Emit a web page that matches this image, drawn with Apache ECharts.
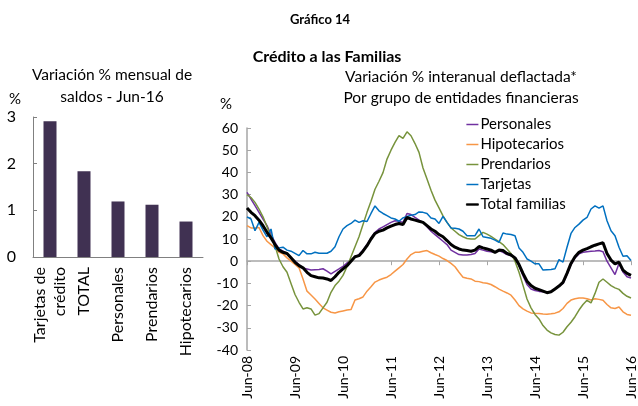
<!DOCTYPE html>
<html>
<head>
<meta charset="utf-8">
<script src="https://cdn.jsdelivr.net/npm/echarts@6/dist/echarts.min.js"></script>
<style>
html, body { margin: 0; padding: 0; background: #fff; }
#chart { width: 638px; height: 406px; }
</style>
</head>
<body>
<div id="chart"></div>
<script>
// bar panel: variacion % mensual de saldos, Jun-16
const barCats = ["Tarjetas de\ncrédito", "TOTAL", "Personales", "Prendarios", "Hipotecarios"];
const barValues = [2.91, 1.84, 1.19, 1.12, 0.76];

// line panel: monthly, Jun-08 .. Jun-16
const monthAbbr = ["Jun", "Jul", "Ago", "Sep", "Oct", "Nov", "Dic", "Ene", "Feb", "Mar", "Abr", "May"];
const months = [];
for (let i = 0; i < 97; i++) {
  const yr = 8 + Math.floor((i + 5) / 12);
  months.push(monthAbbr[i % 12] + "-" + String(yr).padStart(2, "0"));
}

const personales = [
  31, 28, 25, 22, 19, 16, 12, 8.5, 5.5, 4.5, 3.5, 1.5,
  0, -1.5, -3, -3.5, -4, -3.8, -3.7, -3.4, -4.5, -5.7, -4.6, -3.5,
  -2.3, -0.8, 0.5, 2, 3, 5, 7.5, 10.5, 13, 14.5, 15.5, 16.5,
  17.5, 18.2, 18, 17.5, 21.5, 21, 19.7, 18.5, 17.5, 15.5, 13.5, 12,
  10.5, 9, 7.5, 5, 4, 3, 2.8, 2.8, 3, 3.5, 5.5, 5,
  4.5, 4.3, 4, 4.8, 4, 3, 2.5, 1.5, -2, -6.5, -10.5, -12.5,
  -13.2, -13.6, -13.8, -14, -13.6, -12.5, -11, -10, -6, -1.5, 1.5, 3.3,
  4, 4.3, 4.5, 4.6, 4.8, 4.3, 0, -3, -6, -1, -4.9, -7,
  -7.6
];
const hipotecarios = [
  16, 15, 15, 15.2, 11.5, 9, 7.5, 6, 4, 3.3, 1.5, 0,
  -1.5, -3, -8, -13.5, -15.2, -17, -19, -21, -22, -23, -23.3, -22.8,
  -22.4, -22, -21.8, -17.5, -16.9, -16.1, -13.5, -11.5, -9.4, -8.5, -7.8, -7.2,
  -6, -4.5, -3, -1.5, 1, 3, 4, 4, 4.5, 4.8, 3.8, 3,
  2.3, 1.2, 0.3, -1, -2.5, -5, -7.2, -7.7, -8, -9, -9.2, -9.7,
  -9.9, -10.5, -11.5, -12.6, -13.5, -14.3, -15.3, -17.5, -20, -21.5, -22.5, -23.3,
  -23.5, -23.6, -23.8, -23.9, -23.7, -23.4, -22.8, -21.3, -19, -17.5, -16.9, -16.6,
  -16.6, -16.9, -17.5, -16.9, -17.2, -17.6, -19.5, -21, -21.3, -20.6, -22.8, -24,
  -24.3
];
const prendarios = [
  30, 28.7, 26.5, 23.5, 20, 15.5, 11, 7, 1, -2.5, -5, -10,
  -15, -18.5, -21.5, -21, -21.5, -24.3, -23.6, -21, -18.5, -14, -11, -9,
  -6.4, -2.5, 2, 6.5, 11, 16.5, 22, 27, 32.4, 36, 39.9, 46,
  50, 53.5, 56.6, 55.3, 58.3, 56.5, 53, 49, 42, 37, 32, 27.5,
  24, 20.4, 17.5, 15, 13.5, 12, 11, 10.2, 10, 10, 11.5, 13,
  12.2, 11.2, 10, 8.8, 7.5, 5.5, 3.5, 0, -5, -10.9, -17, -21,
  -24, -26, -29, -31, -32.3, -33, -33.3, -32, -29.5, -27.5, -25, -22,
  -19.5, -17.6, -18.8, -14.5, -9.5, -8, -9.5, -11, -12, -12.7, -14.5, -15.8,
  -16.6
];
const tarjetas = [
  20, 19, 13.7, 17.5, 14, 11, 14.5, 5.5, 6, 6.3, 5, 4.5,
  3.5, 2.5, 4.8, 3.3, 3.3, 4, 3.6, 3.6, 3.6, 4.5, 6.5, 11,
  14.5, 16, 17, 18.5, 17.5, 18.2, 17.9, 21.5, 24.9, 22.7, 21.5, 20.5,
  19.5, 19, 18, 19.5, 20.2, 20.7, 21, 22.2, 22, 21.5, 19.5, 19,
  17, 20.2, 17.5, 15, 14.8, 14.5, 13.5, 11.5, 11.5, 11.5, 14.5, 11,
  10.7, 10.3, 9.5, 8.5, 12.7, 12.2, 12, 11.5, 6, 4, 1, 0,
  -1.2, -1.2, -4, -3.8, -3.7, -3.4, 0.7, -0.4, 6.3, 12.5, 15.2, 16.7,
  18.5, 19.7, 23.5, 24.9, 23.9, 24.9, 18.2, 13.7, 11.5, 6.3, 2.2, 2.5,
  0.3
];
const totalFamilias = [
  24, 22, 20.5, 18.5, 16, 13, 10.5, 7.5, 5, 4, 3.5, 1.5,
  -0.5, -2, -3, -5, -6.5, -7, -7.5, -7.6, -8, -8.7, -7, -5,
  -3.5, -2, 0, 2, 2.5, 4.5, 7, 10, 12.5, 13.5, 14, 15,
  15.8, 16.5, 17, 16.5, 19.7, 19, 18.5, 18, 17.5, 16, 14.5, 13.5,
  12, 11, 9.3, 7.5, 6.3, 5.5, 5, 4.8, 4.5, 5, 6.6, 6,
  5.5, 5, 4, 5, 4.8, 3.5, 2.8, 1.5, -1.5, -5.5, -9, -11,
  -12.2, -12.8, -13.5, -14.2, -13.8, -12.5, -11.2, -9.5, -5.5, -1, 2, 4,
  5, 5.7, 6.5, 7.2, 7.8, 8.3, 3.5, 0.5, -1.2, -0.4, -4, -5.5,
  -6.4
];

const font = "Lato";
const lineSeries = [
  { name: "Personales", data: personales, color: "#7030a0", width: 1.5 },
  { name: "Hipotecarios", data: hipotecarios, color: "#f79646", width: 1.5 },
  { name: "Prendarios", data: prendarios, color: "#77933c", width: 1.5 },
  { name: "Tarjetas", data: tarjetas, color: "#0070c0", width: 1.5 },
  { name: "Total familias", data: totalFamilias, color: "#000000", width: 3 },
];

const myChart = echarts.init(document.getElementById("chart"));
myChart.setOption({
  animation: false,
  textStyle: { fontFamily: font, color: "#000" },
  graphic: [
    { type: "text", x: 320, y: 13, style: { text: "Gráfico 14", font: "bold 13px " + font, textAlign: "center", fill: "#000" } },
    { type: "text", x: 327, y: 49, style: { text: "Crédito a las Familias", font: "bold 16px " + font, textAlign: "center", fill: "#000" } },
    { type: "text", x: 112, y: 67, style: { text: "Variación % mensual de", font: "15.5px " + font, textAlign: "center", fill: "#000" } },
    { type: "text", x: 112, y: 89, style: { text: "saldos - Jun-16", font: "15.5px " + font, textAlign: "center", fill: "#000" } },
    { type: "text", x: 461, y: 69, style: { text: "Variación % interanual deflactada*", font: "15.5px " + font, textAlign: "center", fill: "#000" } },
    { type: "text", x: 461, y: 90, style: { text: "Por grupo de entidades financieras", font: "15.5px " + font, textAlign: "center", fill: "#000" } },
    { type: "text", x: 15, y: 92, style: { text: "%", font: "15px " + font, textAlign: "center", fill: "#000" } },
    { type: "text", x: 226, y: 97, style: { text: "%", font: "15px " + font, textAlign: "center", fill: "#000" } },
  ],
  legend: {
    orient: "vertical",
    left: 461,
    top: 112,
    icon: "rect",
    itemWidth: 12,
    itemHeight: 1.5,
    itemGap: 5,
    textStyle: { fontSize: 15, fontFamily: font, color: "#000", padding: [0, 0, 0, -3], height: 14.5, lineHeight: 14.5 },
    data: lineSeries.map((s) =>
      s.width > 2
        ? { name: s.name, itemStyle: { borderColor: s.color, borderWidth: 0.8 } }
        : { name: s.name }
    ),
  },
  grid: [
    { left: 33, right: 435, top: 117, bottom: 149 },
    { left: 247, right: 6, top: 128, bottom: 56 },
  ],
  xAxis: [
    {
      gridIndex: 0,
      type: "category",
      data: barCats,
      axisLine: { lineStyle: { color: "#808080" } },
      axisTick: { inside: true, length: 4, lineStyle: { color: "#808080" } },
      axisLabel: { rotate: 90, fontSize: 16, color: "#000", margin: 10, lineHeight: 20 },
    },
    {
      gridIndex: 1,
      type: "category",
      boundaryGap: false,
      data: months,
      axisLine: { show: false, onZero: false },
      axisTick: { show: false },
      axisLabel: { rotate: 90, interval: 11, fontSize: 14, color: "#000", margin: 6 },
    },
    {
      gridIndex: 1,
      type: "category",
      boundaryGap: false,
      data: months,
      axisLine: { onZero: true, lineStyle: { color: "#a6a6a6", width: 1.5 } },
      axisTick: { inside: true, interval: 11, length: 4, lineStyle: { color: "#a6a6a6" } },
      axisLabel: { show: false },
    },
  ],
  yAxis: [
    {
      gridIndex: 0,
      type: "value",
      min: 0,
      max: 3,
      interval: 1,
      splitLine: { show: false },
      axisLine: { show: true, lineStyle: { color: "#808080" } },
      axisTick: { show: true, inside: true, length: 4, lineStyle: { color: "#808080" } },
      axisLabel: { fontSize: 16, color: "#000", margin: 17 },
    },
    {
      gridIndex: 1,
      type: "value",
      min: -40,
      max: 60,
      interval: 10,
      splitLine: { show: false },
      axisLine: { show: true, lineStyle: { color: "#a6a6a6", width: 1.5 } },
      axisTick: { show: true, inside: true, length: 4, lineStyle: { color: "#a6a6a6" } },
      axisLabel: { fontSize: 14, color: "#000", margin: 9 },
    },
  ],
  series: [
    {
      type: "bar",
      xAxisIndex: 0,
      yAxisIndex: 0,
      data: barValues,
      barWidth: 13,
      itemStyle: { color: "#403152" },
    },
  ].concat(
    lineSeries.map((s) => ({
      name: s.name,
      type: "line",
      xAxisIndex: 1,
      yAxisIndex: 1,
      data: s.data,
      symbol: "none",
      color: s.color,
      lineStyle: { color: s.color, width: s.width },
      z: s.name == "Total familias" ? 5 : 3,
    }))
  ),
});
</script>
</body>
</html>
